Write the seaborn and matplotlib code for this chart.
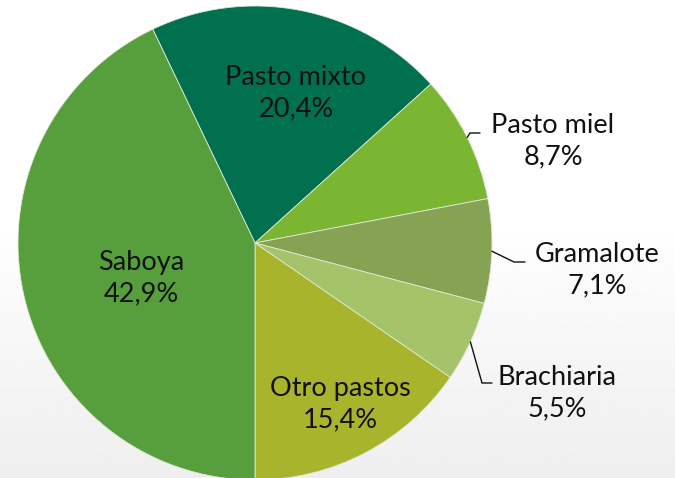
import numpy as np
import matplotlib
matplotlib.use("Agg")
import matplotlib.pyplot as plt
import seaborn as sns

# Data
categories = ["Pasto mixto", "Pasto miel", "Gramalote", "Brachiaria", "Otro pastos", "Saboya"]
shares = [20.4, 8.7, 7.1, 5.5, 15.4, 42.9]
colors = ["#00704F", "#7AB631", "#86A353", "#A5C46A", "#A8B42C", "#569F3C"]

sns.set_theme(style="white")
plt.rcParams["font.family"] = ["Lato", "DejaVu Sans"]

W, H = 675, 478
fig = plt.figure(figsize=(W / 100, H / 100), dpi=100)

# soft grey gradient in the background
bg = fig.add_axes([0, 0, 1, 1])
grad = np.linspace(0, 1, 256)
grad = np.clip((grad - 0.45) / 0.55, 0, 1)[:, None]
bg.imshow(1 - 0.065 * grad, cmap="gray", vmin=0, vmax=1, aspect="auto",
          extent=[0, 1, 1, 0])
bg.set_axis_off()

# pie axes: centre (255, 243) px, radius 237 px
cx, cy, r = 255, 243, 237
ax = fig.add_axes([(cx - r) / W, (H - cy - r) / H, 2 * r / W, 2 * r / H])
ax.set_axis_off()

# Saboya (last slice) ends straight down
start = 270 - shares[-1] * 3.6
wedges, _ = ax.pie(shares, colors=colors, startangle=start, counterclock=False,
                   radius=1,
                   wedgeprops=dict(edgecolor="#dfe8d6", linewidth=0.6))
ax.set_xlim(-1, 1)
ax.set_ylim(-1, 1)


def px(x, y):
    return (x - cx) / r, (cy - y) / r


labels = [f"{c}\n{str(v).replace('.', ',')}%" for c, v in zip(categories, shares)]
inside_pos = {"Pasto mixto": (296, 93), "Saboya": (141, 278), "Otro pastos": (340, 404)}
outside_pos = {"Pasto miel": ((553, 141), (470, 133), (480, 133)),
               "Gramalote": ((597, 270), (514, 262), (525, 262)),
               "Brachiaria": ((557, 393), (482, 383), (492, 383))}

fs = 19.5
for w, cat, lab in zip(wedges, categories, labels):
    if cat in inside_pos:
        x, y = px(*inside_pos[cat])
        ax.text(x, y, lab, ha="center", va="center", fontsize=fs,
                color="#111111", linespacing=1.3)
    else:
        (tx, ty), elbow, end = outside_pos[cat]
        ang = np.deg2rad((w.theta1 + w.theta2) / 2)
        p0 = (np.cos(ang), np.sin(ang))
        p1 = px(*elbow)
        p2 = px(*end)
        ax.plot([p0[0], p1[0], p2[0]], [p0[1], p1[1], p2[1]], color="#111111",
                lw=1, clip_on=False)
        x, y = px(tx, ty)
        ax.text(x, y, lab, ha="center", va="center", fontsize=fs,
                color="#111111", linespacing=1.3, clip_on=False)

fig.savefig("out.png", dpi=100)
